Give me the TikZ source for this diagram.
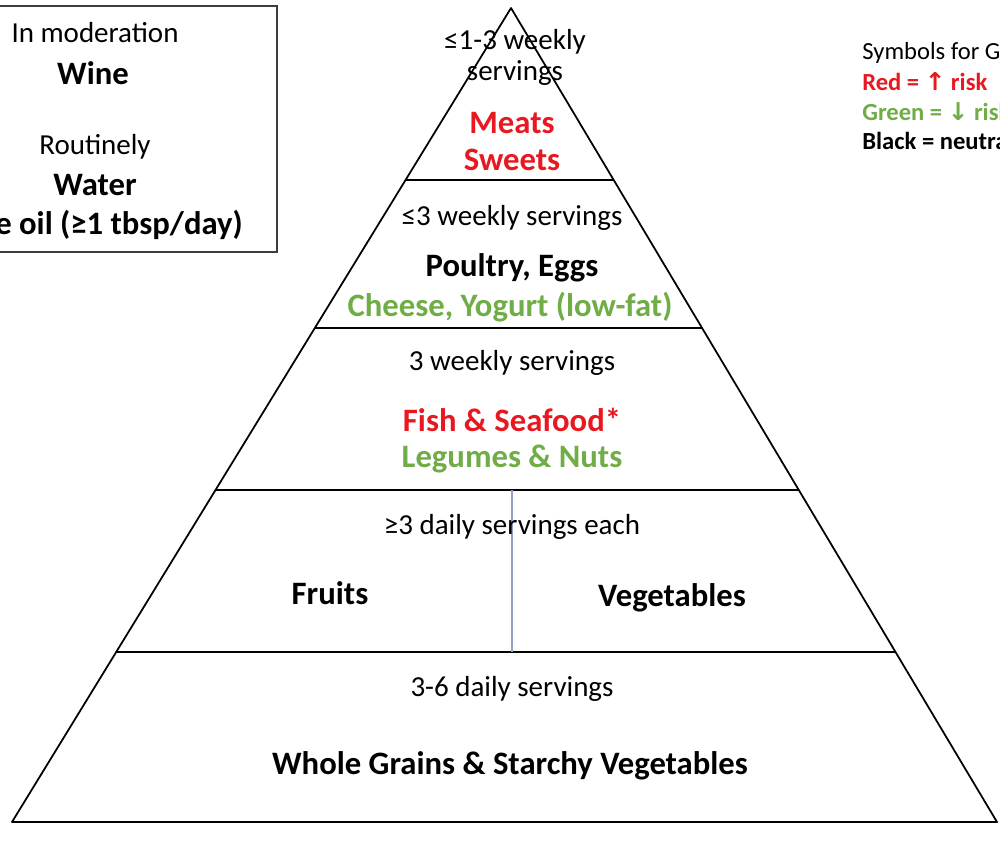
\documentclass[tikz,border=0pt]{standalone}
\usepackage{fontspec}
\setmainfont{Carlito}
\newfontfamily\arrowfont{DejaVu Sans}
\usetikzlibrary{calc}
\definecolor{riskred}{RGB}{232,24,32}
\definecolor{riskgreen}{RGB}{112,173,71}
\definecolor{divider}{RGB}{150,160,195}
\definecolor{boxline}{RGB}{60,60,60}
\tikzset{
  tier/.style={font=\fontsize{16.5}{18}\selectfont,inner sep=0pt},
  food/.style={font=\fontsize{18.6}{20}\selectfont\bfseries,text=#1,inner sep=0pt},
  food/.default=black,
  legend/.style={font=\fontsize{14}{16}\selectfont\bfseries,text=#1,anchor=west,inner sep=0pt},
  legend/.default=black,
  edge/.style={draw=black,line width=1pt},
}
\begin{document}
\begin{tikzpicture}[x=0.02cm,y=-0.02cm]
    \useasboundingbox (0,0) rectangle (1000,841);
    \clip (0,0) rectangle (1000,841);
    % pyramid outline
    \coordinate (apex) at (511,8);
    \coordinate (bl) at (12,822);
    \coordinate (br) at (997,822);
    \draw[edge,line join=round] (apex) -- (bl) -- (br) -- cycle;
    \foreach \t/\n in {0.2115/a,0.3931/b,0.5921/c,0.7912/d}
      \draw[edge] ($(apex)!\t!(bl)$) coordinate (l\n) -- ($(apex)!\t!(br)$) coordinate (r\n);
    \draw[divider,line width=0.8pt] (lc -| 512,0) coordinate (dtop) -- (dtop |- ld) coordinate (dbot);

    % tier texts
    \node[tier] (t1a) at (515,42) {≤1-3 weekly};
    \node[tier] (t1b) at (515,73) {servings};
    \node[food=riskred] (meats) at (512,123) {Meats};
    \node[food=riskred] (sweets) at (512,160) {Sweets};
    \node[tier] (t2) at (512,218) {≤3 weekly servings};
    \node[food] (poultry) at (512,268) {Poultry, Eggs};
    \node[food=riskgreen] (cheese) at (510,307) {Cheese, Yogurt (low-fat)};
    \node[tier] (t3) at (512,363) {3 weekly servings};
    \node[food=riskred] (fish) at (512,420) {Fish \& Seafood*};
    \node[food=riskgreen] (legumes) at (512,459) {Legumes \& Nuts};
    \node[tier] (t4) at (512,527) {≥3 daily servings each};
    \node[food] (fruits) at (330,593) {Fruits};
    \node[food] (veg) at (672,598) {Vegetables};
    \node[tier] (t5) at (512,689) {3-6 daily servings};
    \node[food] (grains) at (510,766) {Whole Grains \& Starchy Vegetables};

    % box on the left
    \draw[boxline,line width=1.2pt] (-10,6) rectangle (277,252);
    \node[tier] (modr) at (95,33) {In moderation};
    \node[food] (wine) at (93,73) {Wine};
    \node[tier] (rout) at (95,147) {Routinely};
    \node[food] (water) at (95,185) {Water};
    \node[food,anchor=east] (oil) at (243,225) {Olive oil (≥1 tbsp/day)};

    % legend
    \node[legend,font=\fontsize{14}{16}\selectfont] (sym) at (862,53) {Symbols for GDM risk:};
    \node[legend=riskred] (red) at (862,82) {Red = {\arrowfont\bfseries ↑} risk};
    \node[legend=riskgreen] (green) at (862,112) {Green = {\arrowfont\bfseries ↓} risk};
    \node[legend] (black) at (862,141) {Black = neutral};
  \end{tikzpicture}
\end{document}
